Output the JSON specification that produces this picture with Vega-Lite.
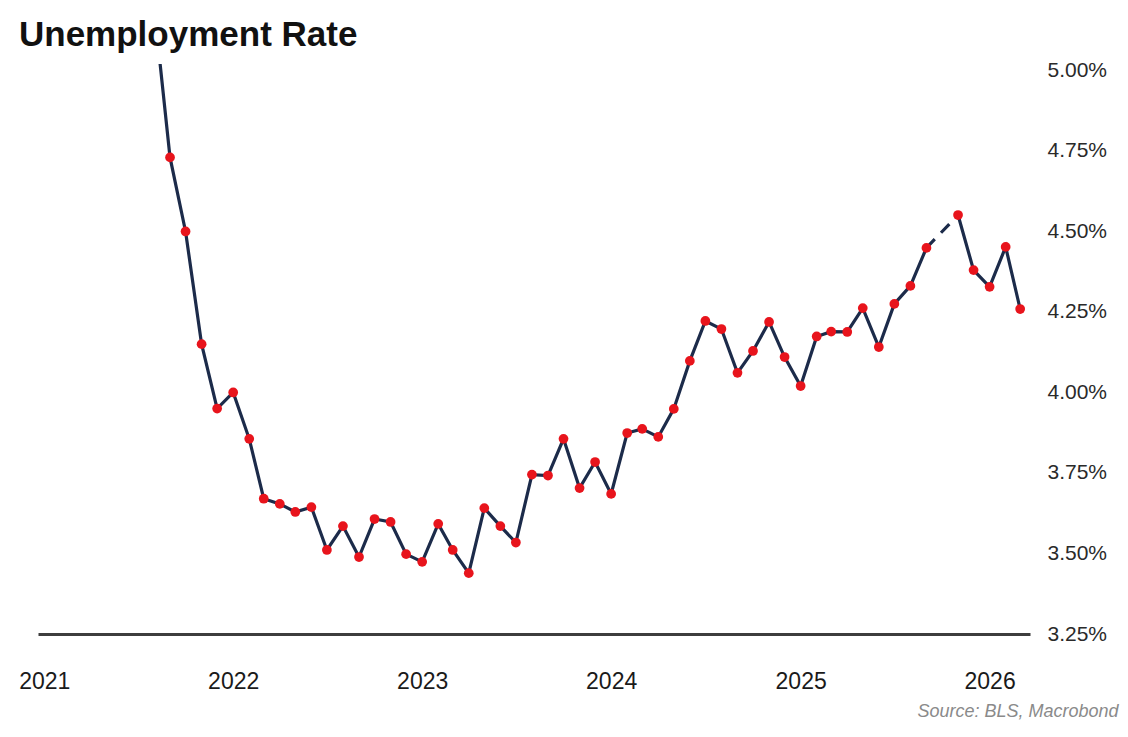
{
  "$schema": "https://vega.github.io/schema/vega-lite/v6.json",
  "width": 992,
  "height": 570,
  "autosize": {"type": "none"},
  "padding": {"left": 38, "top": 64, "right": 98, "bottom": 103},
  "background": "white",
  "config": {"view": {"stroke": null}, "font": "Liberation Sans"},
  "title": {
    "text": "Unemployment Rate",
    "anchor": "start",
    "frame": "group",
    "dx": -19,
    "dy": 39,
    "offset": 17,
    "baseline": "alphabetic",
    "fontSize": 35,
    "fontWeight": "bold",
    "color": "#111111",
    "font": "Liberation Sans"
  },
  "data": {
    "values": [
      {"date": "2021-08-01", "rate": 5.2},
      {"date": "2021-09-01", "rate": 4.73},
      {"date": "2021-10-01", "rate": 4.50},
      {"date": "2021-11-01", "rate": 4.15},
      {"date": "2021-12-01", "rate": 3.95},
      {"date": "2022-01-01", "rate": 4.00},
      {"date": "2022-02-01", "rate": 3.856},
      {"date": "2022-03-01", "rate": 3.67},
      {"date": "2022-04-01", "rate": 3.654},
      {"date": "2022-05-01", "rate": 3.629},
      {"date": "2022-06-01", "rate": 3.644},
      {"date": "2022-07-01", "rate": 3.511},
      {"date": "2022-08-01", "rate": 3.585},
      {"date": "2022-09-01", "rate": 3.489},
      {"date": "2022-10-01", "rate": 3.607},
      {"date": "2022-11-01", "rate": 3.598},
      {"date": "2022-12-01", "rate": 3.498},
      {"date": "2023-01-01", "rate": 3.474},
      {"date": "2023-02-01", "rate": 3.592},
      {"date": "2023-03-01", "rate": 3.511},
      {"date": "2023-04-01", "rate": 3.439},
      {"date": "2023-05-01", "rate": 3.641},
      {"date": "2023-06-01", "rate": 3.585},
      {"date": "2023-07-01", "rate": 3.534},
      {"date": "2023-08-01", "rate": 3.745},
      {"date": "2023-09-01", "rate": 3.742},
      {"date": "2023-10-01", "rate": 3.856},
      {"date": "2023-11-01", "rate": 3.703},
      {"date": "2023-12-01", "rate": 3.784},
      {"date": "2024-01-01", "rate": 3.685},
      {"date": "2024-02-01", "rate": 3.874},
      {"date": "2024-03-01", "rate": 3.887},
      {"date": "2024-04-01", "rate": 3.862},
      {"date": "2024-05-01", "rate": 3.949},
      {"date": "2024-06-01", "rate": 4.098},
      {"date": "2024-07-01", "rate": 4.222},
      {"date": "2024-08-01", "rate": 4.197},
      {"date": "2024-09-01", "rate": 4.061},
      {"date": "2024-10-01", "rate": 4.129},
      {"date": "2024-11-01", "rate": 4.219},
      {"date": "2024-12-01", "rate": 4.11},
      {"date": "2025-01-01", "rate": 4.02},
      {"date": "2025-02-01", "rate": 4.174},
      {"date": "2025-03-01", "rate": 4.189},
      {"date": "2025-04-01", "rate": 4.188},
      {"date": "2025-05-01", "rate": 4.262},
      {"date": "2025-06-01", "rate": 4.141},
      {"date": "2025-07-01", "rate": 4.275},
      {"date": "2025-08-01", "rate": 4.331},
      {"date": "2025-09-01", "rate": 4.449},
      {"date": "2025-11-01", "rate": 4.551},
      {"date": "2025-12-01", "rate": 4.38},
      {"date": "2026-01-01", "rate": 4.328},
      {"date": "2026-02-01", "rate": 4.452},
      {"date": "2026-03-01", "rate": 4.259}
    ]
  },
  "encoding": {
    "x": {
      "field": "date",
      "type": "temporal",
      "scale": {"domain": [{"year": 2020, "month": 12, "date": 20}, {"year": 2026, "month": 3, "date": 20}]},
      "axis": {
        "format": "%Y",
        "tickCount": "year",
        "ticks": false,
        "tickSize": 0,
        "grid": false,
        "domainColor": "#3d3d3d",
        "domainWidth": 3,
        "labelFontSize": 23,
        "labelColor": "#1a1a1a",
        "labelPadding": 36,
        "labelFlush": false,
        "labelOverlap": false,
        "title": "Source: BLS, Macrobond",
        "titleFontStyle": "italic",
        "titleFontWeight": "normal",
        "titleFontSize": 18,
        "titleColor": "#8a8a8a",
        "titleAnchor": "end",
        "titleAlign": "right",
        "titleX": 1080,
        "titleY": 82,
        "titleBaseline": "alphabetic"
      }
    },
    "y": {
      "field": "rate",
      "type": "quantitative",
      "scale": {"domain": [3.25, 5.02], "zero": false, "nice": false},
      "axis": {
        "orient": "right",
        "values": [3.25, 3.5, 3.75, 4, 4.25, 4.5, 4.75, 5],
        "labelExpr": "format(datum.value, '.2f') + '%'",
        "domain": false,
        "ticks": false,
        "tickSize": 0,
        "grid": false,
        "labelFontSize": 21,
        "labelColor": "#2a2a2a",
        "labelPadding": 17,
        "title": null
      }
    }
  },
  "layer": [
    {
      "transform": [{"filter": {"field": "date", "lte": {"year": 2025, "month": 9, "date": 15}}}],
      "mark": {"type": "line", "color": "#1c2b4a", "strokeWidth": 3.2, "clip": true}
    },
    {
      "transform": [{"filter": {"field": "date", "gte": {"year": 2025, "month": 10, "date": 15}}}],
      "mark": {"type": "line", "color": "#1c2b4a", "strokeWidth": 3.2, "clip": true}
    },
    {
      "transform": [{"filter": {"field": "date", "range": [{"year": 2025, "month": 8, "date": 15}, {"year": 2025, "month": 11, "date": 15}]}}],
      "mark": {"type": "line", "color": "#1c2b4a", "strokeWidth": 3.2, "strokeDash": [12, 9], "clip": true}
    },
    {
      "transform": [{"filter": {"field": "date", "gte": {"year": 2021, "month": 9, "date": 1}}}],
      "mark": {"type": "point", "filled": true, "color": "#e8141c", "opacity": 1, "size": 95, "clip": true}
    }
  ]
}
